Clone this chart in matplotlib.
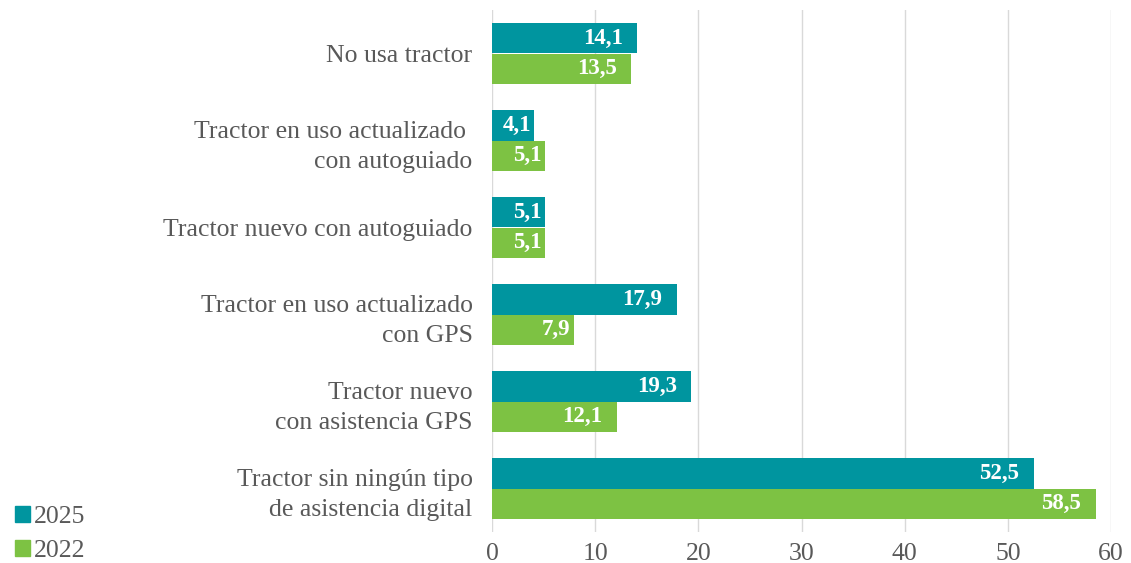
import matplotlib.pyplot as plt
import numpy as np
from matplotlib.patches import Patch

categories = ["No usa tractor",
              "Tractor en uso actualizado \ncon autoguiado",
              "Tractor nuevo con autoguiado",
              "Tractor en uso actualizado\ncon GPS",
              "Tractor nuevo\ncon asistencia GPS",
              "Tractor sin ningún tipo\nde asistencia digital"]
vals_2025 = [14.1, 4.1, 5.1, 17.9, 19.3, 52.5]
vals_2022 = [13.5, 5.1, 5.1, 7.9, 12.1, 58.5]
series = ["2025", "2022"]

teal = "#00959F"
green = "#7DC243"
grey = "#595959"

plt.rcParams['font.family'] = ['Liberation Serif', 'DejaVu Serif']

fig = plt.figure(figsize=(11.31, 5.63), dpi=100)
ax = fig.add_axes([492/1131, 1 - 532/563, (1111-492)/1131, (532-10)/563])

y = np.arange(len(categories))
h = 0.35
b1 = ax.barh(y - h/2, vals_2025, height=h, color=teal, label=series[0])
b2 = ax.barh(y + h/2, vals_2022, height=h, color=green, label=series[1])

# value labels inside the bar ends (short bars get a smaller gap)
for bars, vals in ((b1, vals_2025), (b2, vals_2022)):
    for bar, v in zip(bars, vals):
        gap = 1.4 if v > 10 else 0.3
        ax.text(v - gap, bar.get_y() + bar.get_height()/2,
                f"{v:.1f}".replace(".", ","), ha="right", va="center",
                color="white", fontsize=16.5, fontweight="bold")

ax.set_ylim(len(categories) - 0.5, -0.5)
ax.set_xlim(0, 60)
ax.set_xticks(range(0, 61, 10))
ax.set_yticks(y)
ax.set_yticklabels(categories, fontsize=18.5, color=grey, linespacing=1.45)
ax.tick_params(axis="x", labelsize=18.5, colors=grey, length=0, pad=8)
ax.tick_params(axis="y", length=0, pad=14)
ax.xaxis.grid(True, color="#D9D9D9", linewidth=1)
ax.set_axisbelow(True)
for s in ax.spines.values():
    s.set_visible(False)

handles = [Patch(color=teal), Patch(color=green)]
fig.legend(handles, series, loc="lower left", bbox_to_anchor=(0.004, -0.016),
           frameon=False, fontsize=18.5, handlelength=0.6, handleheight=0.6,
           handletextpad=0.15, labelspacing=0.45, labelcolor=grey,
           borderaxespad=0.0)

fig.savefig("out.png", dpi=100)
